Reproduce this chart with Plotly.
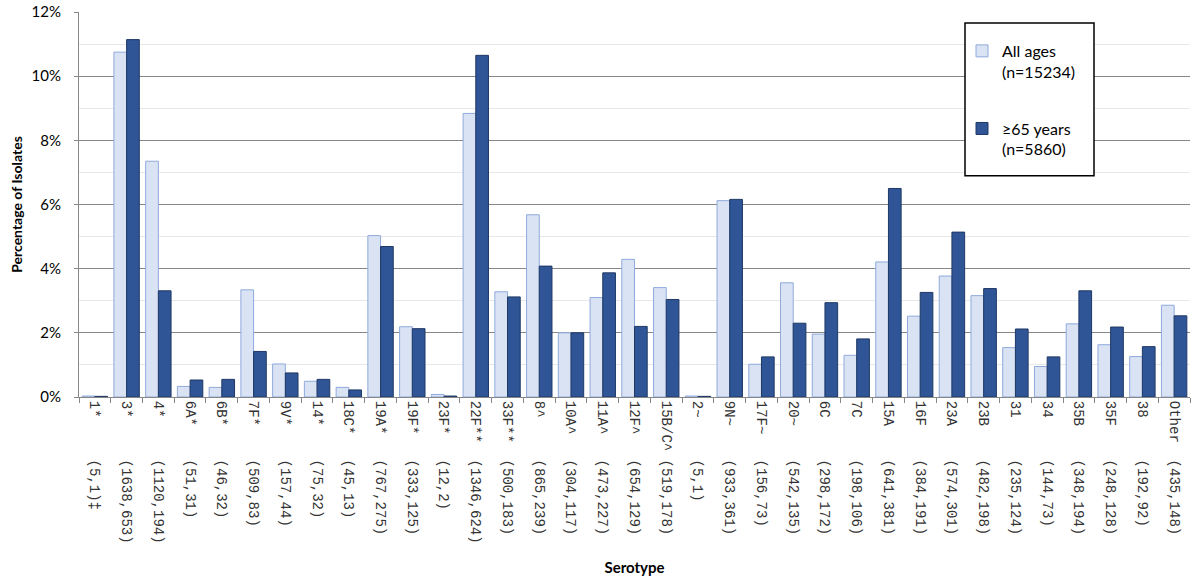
import plotly.graph_objects as go

serotypes = ["1*", "3*", "4*", "6A*", "6B*", "7F*", "9V*", "14*", "18C*", "19A*", "19F*",
             "23F*", "22F**", "33F**", "8^", "10A^", "11A^", "12F^", "15B/C^", "2~", "9N~",
             "17F~", "20~", "6C", "7C", "15A", "16F", "23A", "23B", "31", "34", "35B", "35F",
             "38", "Other"]
count_labels = ["(5,1)‡", "(1638,653)", "(1120,194)", "(51,31)", "(46,32)", "(509,83)",
                "(157,44)", "(75,32)", "(45,13)", "(767,275)", "(333,125)", "(12,2)",
                "(1346,624)", "(500,183)", "(865,239)", "(304,117)", "(473,227)", "(654,129)",
                "(519,178)", "(5,1)", "(933,361)", "(156,73)", "(542,135)", "(298,172)",
                "(198,106)", "(641,381)", "(384,191)", "(574,301)", "(482,198)", "(235,124)",
                "(144,73)", "(348,194)", "(248,128)", "(192,92)", "(435,148)"]
all_ages = [0.03, 10.75, 7.35, 0.33, 0.30, 3.34, 1.03, 0.49, 0.30, 5.03, 2.19,
            0.08, 8.84, 3.28, 5.68, 2.00, 3.10, 4.29, 3.41, 0.03, 6.12,
            1.02, 3.56, 1.96, 1.30, 4.21, 2.52, 3.77, 3.16, 1.54, 0.95, 2.28, 1.63,
            1.26, 2.86]
age_65 = [0.02, 11.14, 3.31, 0.53, 0.55, 1.42, 0.75, 0.55, 0.22, 4.69, 2.13,
          0.03, 10.65, 3.12, 4.08, 2.00, 3.87, 2.20, 3.04, 0.02, 6.16,
          1.25, 2.30, 2.94, 1.81, 6.50, 3.26, 5.14, 3.38, 2.12, 1.25, 3.31, 2.18,
          1.57, 2.53]
legend_names = ["All ages<br>(n=15234)", "≥65 years<br>(n=5860)"]
y_ticks = [0, 2, 4, 6, 8, 10, 12]

NB = "\u00a0"
cats = [s + NB * (7 - len(s)) + c for s, c in zip(serotypes, count_labels)]

W, H = 1200, 581
L, R, T, B = 79, W - 1190, 12, H - 397.5

fig = go.Figure()
fig.add_trace(go.Bar(x=cats, y=all_ages, name=legend_names[0], legendgroup="a",
                     marker=dict(color="#DAE3F3", line=dict(color="#8FAADC", width=1))))
fig.add_trace(go.Bar(x=cats, y=age_65, name=legend_names[1], legendgroup="b",
                     marker=dict(color="#2F5597", line=dict(color="#1F3864", width=1))))

pw = W - L - R
ph = H - T - B
def px_x(x):  # page px -> paper
    return (x - L) / pw
def px_y(y):
    return 1 - (y - T) / ph

fig.add_shape(type="rect", xref="paper", yref="paper",
              x0=px_x(965), x1=px_x(1094), y0=px_y(176), y1=px_y(23),
              line=dict(color="black", width=1.5), fillcolor="white", layer="above")

fig.update_layout(
    width=W, height=H,
    margin=dict(l=L, r=R, t=T, b=B, autoexpand=False),
    plot_bgcolor="white", paper_bgcolor="white",
    barmode="group", bargap=0.2, bargroupgap=0,
    font=dict(family="Lato", size=15, color="black"),
    showlegend=True,
    legend=dict(x=px_x(962), y=px_y(34), xanchor="left", yanchor="top",
                bgcolor="rgba(0,0,0,0)", borderwidth=0, valign="top",
                tracegroupgap=33, font=dict(family="Lato", size=16, color="black")),
    xaxis=dict(
        type="category", showline=True, linecolor="#878787", linewidth=1,
        ticks="outside", tickson="boundaries", ticklen=5, tickcolor="#878787",
        tickangle=90, tickfont=dict(family="Liberation Mono", size=14, color="#333333"),
        showgrid=False, automargin=False, ticklabeloverflow="allow",
        title=dict(text="<b>Serotype</b>", font=dict(family="Lato", size=15), standoff=19),
    ),
    yaxis=dict(
        range=[0, 12.001], tickvals=y_ticks, ticktext=[f"{v}%" for v in y_ticks],
        showline=True, linecolor="#878787", linewidth=1,
        showgrid=True, gridcolor="#878787", gridwidth=1,
        zeroline=False, ticks="outside", ticklen=4, tickcolor="#878787",
        ticklabelstandoff=10, ticklabeloverflow="allow",
        minor=dict(dtick=1, tick0=0, showgrid=True, gridcolor="#E8E8E8", gridwidth=1),
        tickfont=dict(family="Lato", size=15, color="black"),
        automargin=False,
        title=dict(text="<b>Percentage of Isolates</b>", font=dict(family="Lato", size=14), standoff=5),
    ),
)

fig.write_html("out.html", config={"displayModeBar": False},
               post_script="document.body.style.margin='0';document.body.style.overflow='hidden';")
